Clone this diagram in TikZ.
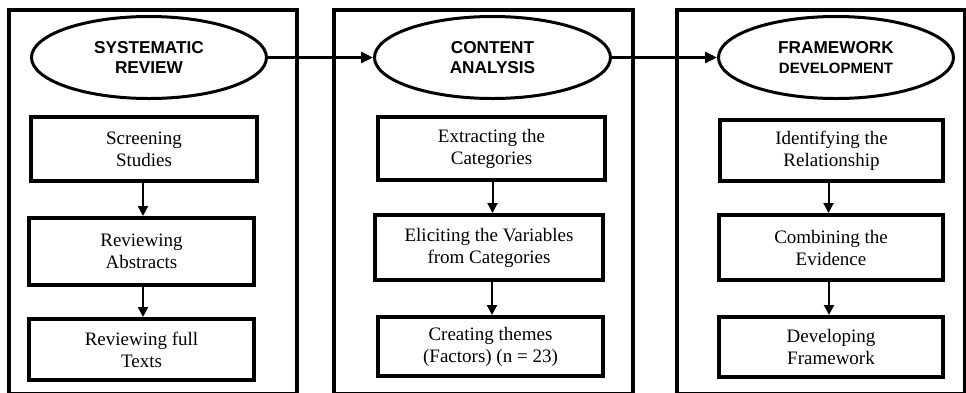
\documentclass[tikz,border=0pt]{standalone}
\usepackage{fontspec}
\setmainfont{Liberation Serif}
\setsansfont{Liberation Sans}
\usetikzlibrary{shapes.geometric,arrows.meta}
\tikzset{
  panel/.style={draw=black,line width=4pt},
  phase/.style={ellipse,draw=black,line width=3pt,inner sep=0pt,align=center,
    font=\sffamily\bfseries\fontsize{17.2}{20}\selectfont},
  stepbox/.style={rectangle,draw=black,line width=4pt,inner sep=0pt,align=center,
    font=\fontsize{19}{22}\selectfont},
  harr/.style={line width=3pt,-{Triangle[length=12pt,width=11pt]}},
  varr/.style={line width=2pt,-{Triangle[length=10pt,width=10pt]}}
}
\begin{document}
\begin{tikzpicture}[x=1pt,y=-1pt]
\useasboundingbox[fill=white] (0,0) rectangle (966,392);
% panels
\draw[panel] (9,10) rectangle (297,394);
\draw[panel] (334,10) rectangle (633,394);
\draw[panel] (677,10) rectangle (964.5,394);
% ellipses
\node[phase,minimum width=235pt,minimum height=82pt] (e1) at (149,57.5) {SYSTEMATIC\\REVIEW};
\node[phase,minimum width=236pt,minimum height=82pt] (e2) at (492.5,57.5) {CONTENT\\ANALYSIS};
\node[phase,minimum width=235pt,minimum height=82pt] (e3) at (836,57.5) {FRAMEWORK\\{\fontsize{15}{20}\selectfont DEVELOPMENT}};
\draw[harr] (e1.east) -- (e2.west);
\draw[harr] (e2.east) -- (e3.west);
% column 1
\node[stepbox,minimum width=226pt,minimum height=64pt] (a1) at (144,149) {Screening\\Studies};
\node[stepbox,minimum width=225pt,minimum height=67pt] (a2) at (141.5,251.5) {Reviewing\\Abstracts};
\node[stepbox,minimum width=225pt,minimum height=61pt] (a3) at (141.5,349.5) {Reviewing full\\Texts};
% column 2
\node[stepbox,minimum width=227pt,minimum height=63pt] (b1) at (491.5,148.5) {Extracting the\\Categories};
\node[stepbox,minimum width=228pt,minimum height=65pt] (b2) at (489,247.5) {Eliciting the Variables\\from Categories};
\node[stepbox,minimum width=225pt,minimum height=59pt] (b3) at (490.5,346.5) {Creating themes\\(Factors) (n = 23)};
% column 3
\node[stepbox,minimum width=223pt,minimum height=61pt] (c1) at (831.5,150.5) {Identifying the\\Relationship};
\node[stepbox,minimum width=224pt,minimum height=65pt] (c2) at (831,247.5) {Combining the\\Evidence};
\node[stepbox,minimum width=224pt,minimum height=60pt] (c3) at (831,347) {Developing\\Framework};
% vertical arrows
\draw[varr] ([xshift=-1pt]a1.south) -- ([xshift=-1pt]a1.south |- a2.north);
\draw[varr] ([xshift=1.5pt]a2.south) -- ([xshift=1.5pt]a2.south |- a3.north);
\draw[varr] ([xshift=1pt]b1.south) -- ([xshift=1pt]b1.south |- b2.north);
\draw[varr] ([xshift=3pt]b2.south) -- ([xshift=3pt]b2.south |- b3.north);
\draw[varr] ([xshift=-3pt]c1.south) -- ([xshift=-3pt]c1.south |- c2.north);
\draw[varr] ([xshift=-2pt]c2.south) -- ([xshift=-2pt]c2.south |- c3.north);
\end{tikzpicture}
\end{document}
